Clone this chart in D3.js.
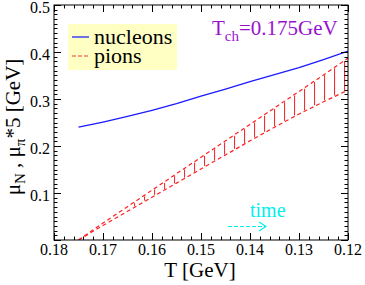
<!DOCTYPE html>
<html>
<head>
<meta charset="utf-8">
<script src="https://cdn.jsdelivr.net/npm/d3@7"></script>
<style>
  html, body { margin: 0; padding: 0; background: #fff; }
  svg text { font-family: "Liberation Serif", "Times New Roman", Times, "DejaVu Serif", serif; }
</style>
</head>
<body>
<svg id="chart" width="365" height="285"></svg>
<script>
// data
const nucT = [0.175, 0.17, 0.165, 0.16, 0.155, 0.15, 0.145, 0.14, 0.135, 0.13, 0.125, 0.12]
const nucMu = [0.240, 0.251, 0.263, 0.276, 0.290, 0.306, 0.321, 0.337, 0.352, 0.367, 0.384, 0.402]
const pionT = [0.175, 0.17, 0.165, 0.16, 0.155, 0.15, 0.145, 0.14, 0.135, 0.13, 0.125, 0.12]
const pionUpper = [0.0, 0.036, 0.071, 0.106, 0.141, 0.176, 0.211, 0.246, 0.281, 0.316, 0.351, 0.387]
const pionLower = [0.0, 0.031, 0.061, 0.091, 0.121, 0.151, 0.181, 0.211, 0.240, 0.268, 0.294, 0.319]
const xTicks = [0.18, 0.17, 0.16, 0.15, 0.14, 0.13, 0.12]
const yTicks = [0.1, 0.2, 0.3, 0.4, 0.5]

const svg = d3.select('#chart')
const x = d3.scaleLinear().domain([0.18, 0.12]).range([54, 348])
const y = d3.scaleLinear().domain([0, 0.5]).range([240, 5])

// hatch pattern for the pion band
const defs = svg.append('defs')
const pat = defs.append('pattern')
  .attr('id', 'hatch')
  .attr('patternUnits', 'userSpaceOnUse')
  .attr('x', 4).attr('y', 0)
  .attr('width', 10).attr('height', 10)
pat.append('line')
  .attr('x1', 0.5).attr('x2', 0.5).attr('y1', 0).attr('y2', 10)
  .attr('stroke', '#f03030').attr('stroke-width', 1.2)

const clip = defs.append('clipPath').attr('id', 'plotclip')
clip.append('rect').attr('x', 54).attr('y', 5).attr('width', 294).attr('height', 235)

// legend box
svg.append('rect')
  .attr('x', 68).attr('y', 24).attr('width', 109).attr('height', 46)
  .attr('fill', '#ffffc4')
svg.append('line')
  .attr('x1', 72).attr('x2', 89).attr('y1', 37).attr('y2', 37)
  .attr('stroke', '#1010ff').attr('stroke-width', 1.2)
svg.append('line')
  .attr('x1', 72).attr('x2', 89).attr('y1', 56).attr('y2', 56)
  .attr('stroke', '#ff3030').attr('stroke-width', 1.2).attr('stroke-dasharray', '4,2')
svg.append('text').attr('x', 94).attr('y', 44)
  .attr('font-size', 22).text('nucleons')
svg.append('text').attr('x', 94).attr('y', 63)
  .attr('font-size', 22).text('pions')

const plot = svg.append('g').attr('clip-path', 'url(#plotclip)')

const band = pionT.map((t, i) => ({ t, hi: pionUpper[i], lo: pionLower[i] }))
plot.append('path')
  .datum(band.filter(d => d.t <= 0.1685))
  .attr('fill', 'url(#hatch)')
  .attr('d', d3.area().x(d => x(d.t)).y0(d => y(d.lo) - 1).y1(d => y(d.hi) + 1))

const line = d3.line().x(d => x(d[0])).y(d => y(d[1]))
plot.append('path')
  .datum(pionT.map((t, i) => [t, pionUpper[i]]))
  .attr('fill', 'none').attr('stroke', '#ff2020').attr('stroke-width', 1.2)
  .attr('stroke-dasharray', '4,3').attr('d', line)
plot.append('path')
  .datum(pionT.map((t, i) => [t, pionLower[i]]))
  .attr('fill', 'none').attr('stroke', '#ff2020').attr('stroke-width', 1.2)
  .attr('stroke-dasharray', '4,3').attr('d', line)
plot.append('path')
  .datum(nucT.map((t, i) => [t, nucMu[i]]))
  .attr('fill', 'none').attr('stroke', '#1a1aff').attr('stroke-width', 1.3)
  .attr('d', line)

// frame and inward ticks on all four sides
const ax = svg.append('g').attr('stroke', '#000').attr('stroke-width', 1)
ax.append('rect').attr('x', 54).attr('y', 5).attr('width', 294).attr('height', 235)
  .attr('fill', 'none')
const xMinor = d3.range(0, 31).map(i => 0.18 - i * 0.002)
const yMinor = d3.range(0, 51).map(i => i * 0.01)
xMinor.forEach((t, i) => {
  const len = i % 5 === 0 ? 7 : 3.5
  const px = Math.round(x(t)) + 0.5
  ax.append('line').attr('x1', px).attr('x2', px).attr('y1', 240).attr('y2', 240 - len)
  ax.append('line').attr('x1', px).attr('x2', px).attr('y1', 5).attr('y2', 5 + len)
})
yMinor.forEach((v, i) => {
  const len = i % 10 === 0 ? 7 : 3.5
  const py = Math.round(y(v)) + 0.5
  ax.append('line').attr('x1', 54).attr('x2', 54 + len).attr('y1', py).attr('y2', py)
  ax.append('line').attr('x1', 348).attr('x2', 348 - len).attr('y1', py).attr('y2', py)
})

svg.append('g').selectAll('text').data(xTicks).join('text')
  .attr('x', d => x(d)).attr('y', 255)
  .attr('text-anchor', 'middle').attr('font-size', 16)
  .text(d => d3.format('.2f')(d))
svg.append('g').selectAll('text').data(yTicks).join('text')
  .attr('x', 50).attr('y', d => y(d) + 8)
  .attr('text-anchor', 'end').attr('font-size', 16)
  .text(d => d3.format('.1f')(d))

// axis titles
svg.append('text').attr('x', 200).attr('y', 277)
  .attr('text-anchor', 'middle').attr('font-size', 21).text('T [GeV]')
const yt = svg.append('text')
  .attr('transform', 'translate(20,127) rotate(-90)')
  .attr('text-anchor', 'middle').attr('font-size', 21)
yt.append('tspan').text('μ')
yt.append('tspan').attr('font-size', 15).attr('dy', 5).text('N')
yt.append('tspan').attr('dy', -5).text(' , μ')
yt.append('tspan').attr('font-size', 15).attr('dy', 5).text('π')
yt.append('tspan').attr('dy', -5).text('*5  [GeV]')

// annotations
const tch = svg.append('text').attr('x', 212).attr('y', 35)
  .attr('font-size', 21).attr('fill', '#9a10d0')
tch.append('tspan').text('T')
tch.append('tspan').attr('font-size', 15).attr('dy', 6).text('ch')
tch.append('tspan').attr('dy', -6).text('=0.175GeV')

svg.append('text').attr('x', 250).attr('y', 217)
  .attr('font-size', 20).attr('fill', '#00f0f0').text('time')
svg.append('line')
  .attr('x1', 228).attr('x2', 265).attr('y1', 226.5).attr('y2', 226.5)
  .attr('stroke', '#00f0f0').attr('stroke-width', 1.2).attr('stroke-dasharray', '4,2')
svg.append('path')
  .attr('d', 'M259,222 L266,226.5 L259,231')
  .attr('fill', 'none').attr('stroke', '#00f0f0').attr('stroke-width', 1.2)
</script>
</body>
</html>
